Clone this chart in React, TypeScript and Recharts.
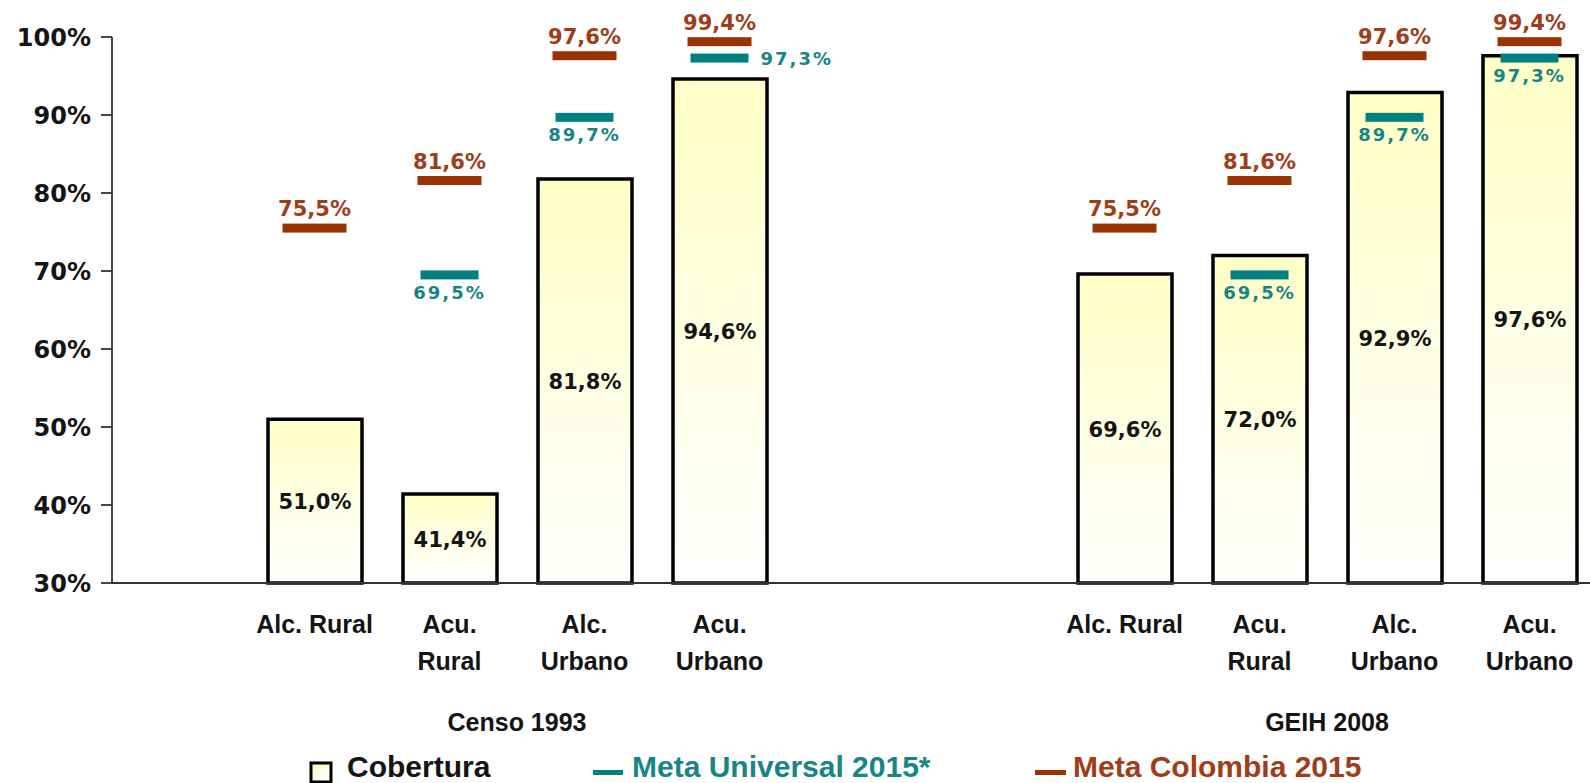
import React from 'react';
import { ComposedChart, Bar, Line, XAxis, YAxis, LabelList, Legend } from 'recharts';

const groups = ['Censo 1993', 'GEIH 2008'];
const categories = [['Alc. Rural'], ['Acu.', 'Rural'], ['Alc.', 'Urbano'], ['Acu.', 'Urbano']];
const cobertura1993 = [51.0, 41.4, 81.8, 94.6];
const cobertura2008 = [69.6, 72.0, 92.9, 97.6];
const metaUniversal = [null, 69.5, 89.7, 97.3];
const metaColombia = [75.5, 81.6, 97.6, 99.4];
const yTicks = [30, 40, 50, 60, 70, 80, 90, 100];

const CHART_W = 1597;
const CHART_H = 783;
const Y_AXIS_W = 112;

const BROWN = '#993300';
const BROWN_TEXT = '#A03C18';
const TEAL = '#008080';
const TEAL_TEXT = '#168585';
const INK = '#141414';

type Row = {
  slot: string;
  group?: number;
  cat?: number;
  lines?: string[];
  cobertura?: number | null;
  universal?: number | null;
  colombia?: number | null;
};

const groupRows = (g: number, values: number[]): Row[] =>
  categories.map((lines, i) => ({
    slot: `${g}-${i}`,
    group: g,
    cat: i,
    lines,
    cobertura: values[i],
    universal: metaUniversal[i],
    colombia: metaColombia[i],
  }));

const rows: Row[] = [
  { slot: 'pad' },
  ...groupRows(0, cobertura1993),
  { slot: 'gap-a' },
  { slot: 'gap-b' },
  ...groupRows(1, cobertura2008),
];

const BAND = (CHART_W - Y_AXIS_W) / rows.length;

const pct = (v: number) => `${v.toFixed(1).replace('.', ',')}%`;

const labelFont = {
  fontFamily: 'Liberation Sans, Arial, sans-serif',
  fontSize: 25,
  fontWeight: 'bold',
  fill: INK,
};

function CategoryTick(props: any) {
  const { x, y, payload } = props;
  const row = rows.find((r) => r.slot === payload.value);
  if (!row || !row.lines) return <g />;
  return (
    <g>
      <text textAnchor="middle" {...labelFont}>
        {row.lines.map((l, i) => (
          <tspan key={i} x={x} y={y + 50 + i * 37}>
            {l}
          </tspan>
        ))}
      </text>
      {row.cat === 1 && (
        <text x={x + BAND / 2} y={y + 148} textAnchor="middle" {...labelFont}>
          {groups[row.group as number]}
        </text>
      )}
    </g>
  );
}

const dash = (color: string, w: number) => (props: any) => {
  const { cx, cy, value, index } = props;
  if (value == null || cy == null) return <g key={`d-${index}`} />;
  return <rect key={`d-${index}`} x={cx - w / 2} y={cy - 4.5} width={w} height={9} fill={color} />;
};

function CoberturaLabel(props: any) {
  const { x, y, width, height, value } = props;
  if (value == null) return null;
  return (
    <text
      x={x + width / 2}
      y={y + height / 2 + 8}
      textAnchor="middle"
      fontFamily="DejaVu Sans, sans-serif"
      fontWeight="bold"
      fontSize={21}
      fill={INK}
    >
      {pct(value)}
    </text>
  );
}

function ColombiaLabel(props: any) {
  const { x, y, value } = props;
  if (value == null) return null;
  return (
    <text
      x={x}
      y={y - 12}
      textAnchor="middle"
      fontFamily="DejaVu Sans, sans-serif"
      fontWeight="bold"
      fontSize={21}
      fill={BROWN_TEXT}
    >
      {pct(value)}
    </text>
  );
}

function UniversalLabel(props: any) {
  const { x, y, value, index } = props;
  if (value == null) return null;
  const row = rows[index];
  const right = row && row.group === 0 && row.cat === 3;
  return (
    <text
      x={right ? x + 41 : x}
      y={right ? y + 7 : y + 24}
      textAnchor={right ? 'start' : 'middle'}
      fontFamily="DejaVu Sans, sans-serif"
      fontWeight="bold"
      fontSize={18}
      letterSpacing={2}
      fill={TEAL_TEXT}
    >
      {pct(value)}
    </text>
  );
}

function LegendContent() {
  const font = { fontFamily: 'Liberation Sans, Arial, sans-serif', fontSize: 30, fontWeight: 'bold' };
  return (
    <svg width={1590} height={40} style={{ display: 'block' }}>
      <defs>
        <linearGradient id="legFill" x1="0" y1="0" x2="0" y2="1">
          <stop offset="0%" stopColor="#FFFFC4" />
          <stop offset="100%" stopColor="#FFFFFF" />
        </linearGradient>
      </defs>
      <rect x={311} y={20} width={20} height={19} fill="url(#legFill)" stroke="#000" strokeWidth={3} />
      <text x={347} y={34} fill={INK} {...font}>
        Cobertura
      </text>
      <rect x={593} y={27} width={30} height={5} fill={TEAL} />
      <text x={632} y={34} fill={TEAL_TEXT} {...font}>
        Meta Universal 2015*
      </text>
      <rect x={1035} y={27} width={31} height={5} fill={BROWN} />
      <text x={1073} y={34} fill={BROWN_TEXT} {...font}>
        Meta Colombia 2015
      </text>
    </svg>
  );
}

export default function App() {
  return (
    <div
      style={{
        position: 'absolute',
        left: 0,
        top: 0,
        width: 1590,
        height: CHART_H,
        overflow: 'hidden',
        background: '#fff',
      }}
    >
      <ComposedChart
        width={CHART_W}
        height={CHART_H}
        data={rows}
        margin={{ top: 37, right: 0, bottom: 0, left: 0 }}
      >
        <defs>
          <linearGradient id="cobFill" x1="0" y1="0" x2="0" y2="1">
            <stop offset="0%" stopColor="#FFFFC6" />
            <stop offset="100%" stopColor="#FFFFFF" />
          </linearGradient>
        </defs>
        <XAxis
          dataKey="slot"
          type="category"
          interval={0}
          height={160}
          tickLine={false}
          tickSize={0}
          tickMargin={0}
          axisLine={{ stroke: '#333', strokeWidth: 1.8 }}
          tick={<CategoryTick />}
        />
        <YAxis
          type="number"
          domain={[30, 100]}
          ticks={yTicks}
          interval={0}
          width={Y_AXIS_W}
          tickSize={11}
          tickMargin={10}
          tickFormatter={(v: number) => `${v}%`}
          axisLine={{ stroke: '#333', strokeWidth: 1.8 }}
          tickLine={{ stroke: '#333', strokeWidth: 1.8 }}
          tick={{ fontFamily: 'DejaVu Sans, sans-serif', fontSize: 24, fontWeight: 'bold', fill: INK }}
        />
        <Legend verticalAlign="bottom" align="left" height={40} wrapperStyle={{ left: 0, width: 1590 }} content={<LegendContent />} />
        <Bar
          dataKey="cobertura"
          barSize={94}
          fill="url(#cobFill)"
          stroke="#000"
          strokeWidth={3.5}
          isAnimationActive={false}
        >
          <LabelList dataKey="cobertura" content={<CoberturaLabel />} />
        </Bar>
        <Line
          dataKey="colombia"
          stroke="none"
          dot={dash(BROWN, 64)}
          activeDot={false}
          isAnimationActive={false}
        >
          <LabelList dataKey="colombia" content={<ColombiaLabel />} />
        </Line>
        <Line
          dataKey="universal"
          stroke="none"
          dot={dash(TEAL, 58)}
          activeDot={false}
          isAnimationActive={false}
        >
          <LabelList dataKey="universal" content={<UniversalLabel />} />
        </Line>
      </ComposedChart>
    </div>
  );
}
